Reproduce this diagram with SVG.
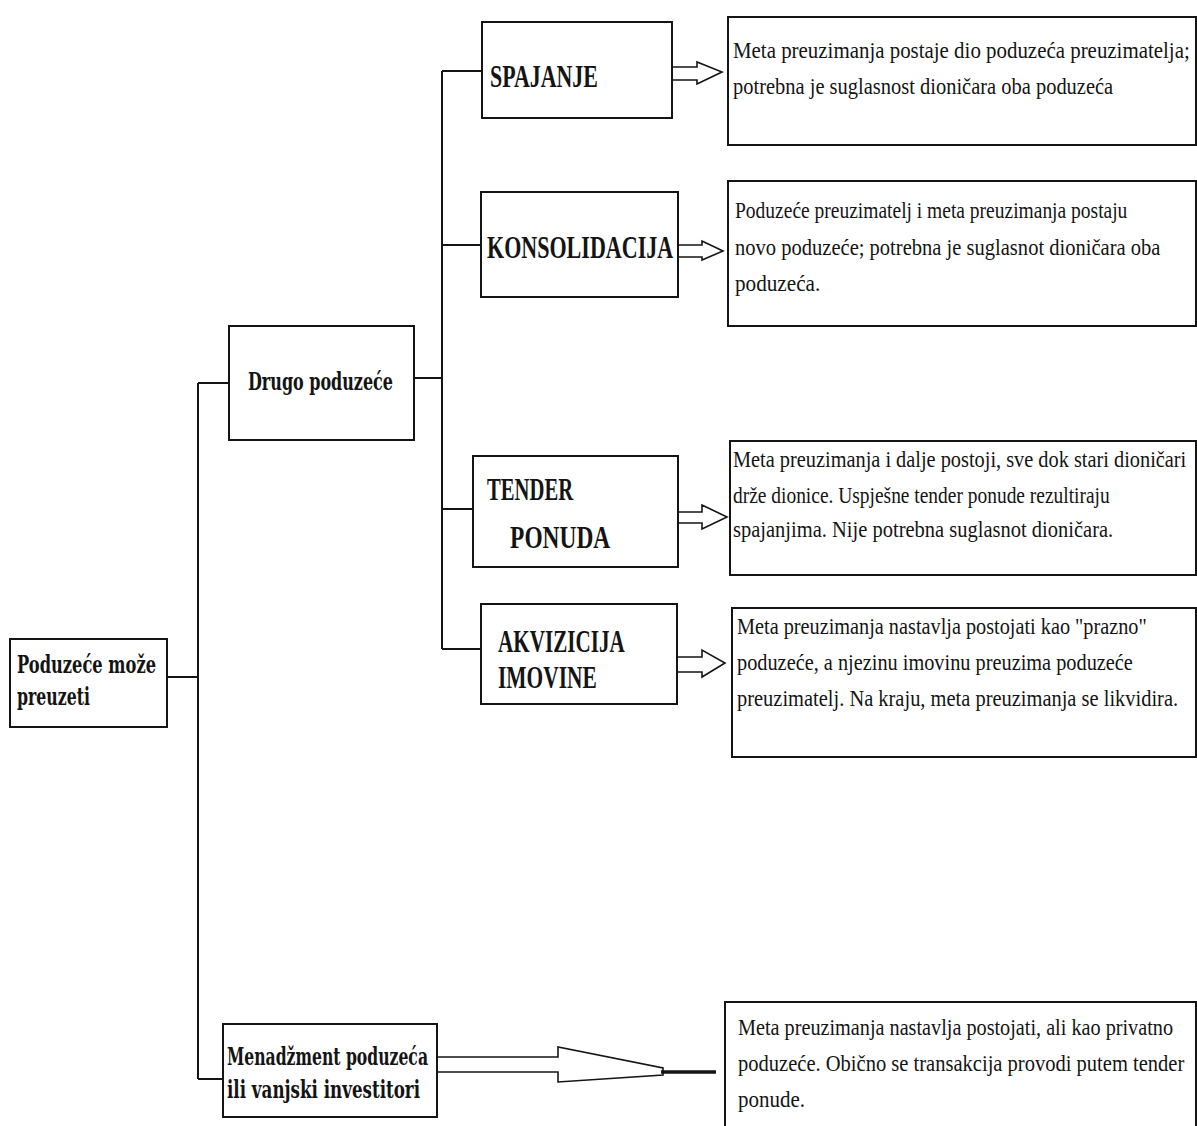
<svg xmlns="http://www.w3.org/2000/svg" width="1197" height="1126" viewBox="0 0 1197 1126">
<style>
.box{fill:#fff;stroke:#141414;stroke-width:2}
.ln{stroke:#141414;stroke-width:2;fill:none}
.arr{fill:#fff;stroke:#141414;stroke-width:1.6;stroke-linejoin:miter}
.slab{font-family:"DejaVu Serif","Liberation Serif",serif;font-weight:bold;font-size:24px;fill:#141414}
.lbl{font-family:"Liberation Serif","Times New Roman",serif;font-weight:bold;font-size:31px;fill:#141414}
.txt{font-family:"Liberation Serif","Times New Roman",serif;font-size:24px;fill:#141414}
</style>
<rect width="1197" height="1126" fill="#fff"/>
<g id="connectors">
  <path class="ln" d="M167 677H198M198 383V1079M198 383H229M198 1079H223"/>
  <path class="ln" d="M414 378H442M442 71V649M442 71H482M442 245H481M442 509H473M442 649H481"/>
  <polygon class="arr" points="672,67 697,67 697,62 722,72 697,84 697,80 672,80"/>
  <polygon class="arr" points="678,245 702,245 702,241 723,251 702,260 702,257 678,257"/>
  <polygon class="arr" points="678,512 702,512 702,505 727,517 702,529 702,523 678,523"/>
  <polygon class="arr" points="677,657 702,657 702,650 725,663 702,677 702,672 677,672"/>
  <polygon class="arr" points="437,1057 558,1057 558,1047 663,1068 663,1075 558,1082 558,1072 437,1072"/>
  <path d="M661 1072H716" stroke="#141414" stroke-width="3.5"/>
</g>
<g id="node-root">
  <rect class="box" x="10" y="639" width="157" height="88"/>
  <text class="slab" x="17" y="673" textLength="139" lengthAdjust="spacingAndGlyphs">Poduzeće može</text>
  <text class="slab" x="17" y="705" textLength="73" lengthAdjust="spacingAndGlyphs">preuzeti</text>
</g>
<g id="node-drugo">
  <rect class="box" x="229" y="326" width="185" height="114"/>
  <text class="slab" x="248" y="390" textLength="145" lengthAdjust="spacingAndGlyphs">Drugo poduzeće</text>
</g>
<g id="node-menadzment">
  <rect class="box" x="223" y="1024" width="214" height="93"/>
  <text class="slab" x="227" y="1065" textLength="201" lengthAdjust="spacingAndGlyphs">Menadžment poduzeća</text>
  <text class="slab" x="227" y="1098" textLength="193" lengthAdjust="spacingAndGlyphs">ili vanjski investitori</text>
</g>
<g id="node-spajanje">
  <rect class="box" x="482" y="22" width="190" height="96"/>
  <g transform="translate(490,0) scale(0.7,1)">
    <text class="lbl" x="0" y="87" textLength="154" lengthAdjust="spacingAndGlyphs">SPAJANJE</text>
  </g>
</g>
<g id="node-konsolidacija">
  <rect class="box" x="481" y="192" width="197" height="105"/>
  <g transform="translate(487,0) scale(0.7,1)">
    <text class="lbl" x="0" y="258" textLength="266" lengthAdjust="spacingAndGlyphs">KONSOLIDACIJA</text>
  </g>
</g>
<g id="node-tender">
  <rect class="box" x="473" y="456" width="205" height="111"/>
  <g transform="translate(487,0) scale(0.7,1)">
    <text class="lbl" x="0" y="500" textLength="123" lengthAdjust="spacingAndGlyphs">TENDER</text>
    <text class="lbl" x="33" y="548" textLength="143" lengthAdjust="spacingAndGlyphs">PONUDA</text>
  </g>
</g>
<g id="node-akvizicija">
  <rect class="box" x="481" y="604" width="196" height="100"/>
  <g transform="translate(498,0) scale(0.7,1)">
    <text class="lbl" x="0" y="652" textLength="181" lengthAdjust="spacingAndGlyphs">AKVIZICIJA</text>
    <text class="lbl" x="0" y="688" textLength="141" lengthAdjust="spacingAndGlyphs">IMOVINE</text>
  </g>
</g>
<g id="desc-spajanje">
  <rect class="box" x="728" y="17" width="468" height="128"/>
  <g transform="translate(733,0) scale(0.87,1)">
    <text class="txt" x="0" y="58" textLength="525" lengthAdjust="spacingAndGlyphs">Meta preuzimanja postaje dio poduzeća preuzimatelja;</text>
    <text class="txt" x="0" y="94" textLength="437" lengthAdjust="spacingAndGlyphs">potrebna je suglasnost dioničara oba poduzeća</text>
  </g>
</g>
<g id="desc-konsolidacija">
  <rect class="box" x="728" y="181" width="468" height="145"/>
  <g transform="translate(735,0) scale(0.87,1)">
    <text class="txt" x="0" y="218" textLength="451" lengthAdjust="spacingAndGlyphs">Poduzeće preuzimatelj i meta preuzimanja postaju</text>
    <text class="txt" x="0" y="255" textLength="489" lengthAdjust="spacingAndGlyphs">novo poduzeće; potrebna je suglasnot dioničara oba</text>
    <text class="txt" x="0" y="291" textLength="98" lengthAdjust="spacingAndGlyphs">poduzeća.</text>
  </g>
</g>
<g id="desc-tender">
  <rect class="box" x="730" y="441" width="466" height="134"/>
  <g transform="translate(733,0) scale(0.87,1)">
    <text class="txt" x="0" y="467" textLength="521" lengthAdjust="spacingAndGlyphs">Meta preuzimanja i dalje postoji, sve dok stari dioničari</text>
    <text class="txt" x="0" y="503" textLength="433" lengthAdjust="spacingAndGlyphs">drže dionice. Uspješne tender ponude rezultiraju</text>
    <text class="txt" x="0" y="537" textLength="437" lengthAdjust="spacingAndGlyphs">spajanjima. Nije potrebna suglasnot dioničara.</text>
  </g>
</g>
<g id="desc-akvizicija">
  <rect class="box" x="732" y="608" width="464" height="149"/>
  <g transform="translate(737,0) scale(0.87,1)">
    <text class="txt" x="0" y="634" textLength="471" lengthAdjust="spacingAndGlyphs">Meta preuzimanja nastavlja postojati kao "prazno"</text>
    <text class="txt" x="0" y="670" textLength="455" lengthAdjust="spacingAndGlyphs">poduzeće, a njezinu imovinu preuzima poduzeće</text>
    <text class="txt" x="0" y="706" textLength="507" lengthAdjust="spacingAndGlyphs">preuzimatelj. Na kraju, meta preuzimanja se likvidira.</text>
  </g>
</g>
<g id="desc-menadzment">
  <path class="box" d="M725 1130V1002H1196V1130"/>
  <g transform="translate(738,0) scale(0.87,1)">
    <text class="txt" x="0" y="1035" textLength="500" lengthAdjust="spacingAndGlyphs">Meta preuzimanja nastavlja postojati, ali kao privatno</text>
    <text class="txt" x="0" y="1071" textLength="513" lengthAdjust="spacingAndGlyphs">poduzeće. Obično se transakcija provodi putem tender</text>
    <text class="txt" x="0" y="1107" textLength="77" lengthAdjust="spacingAndGlyphs">ponude.</text>
  </g>
</g>
</svg>
